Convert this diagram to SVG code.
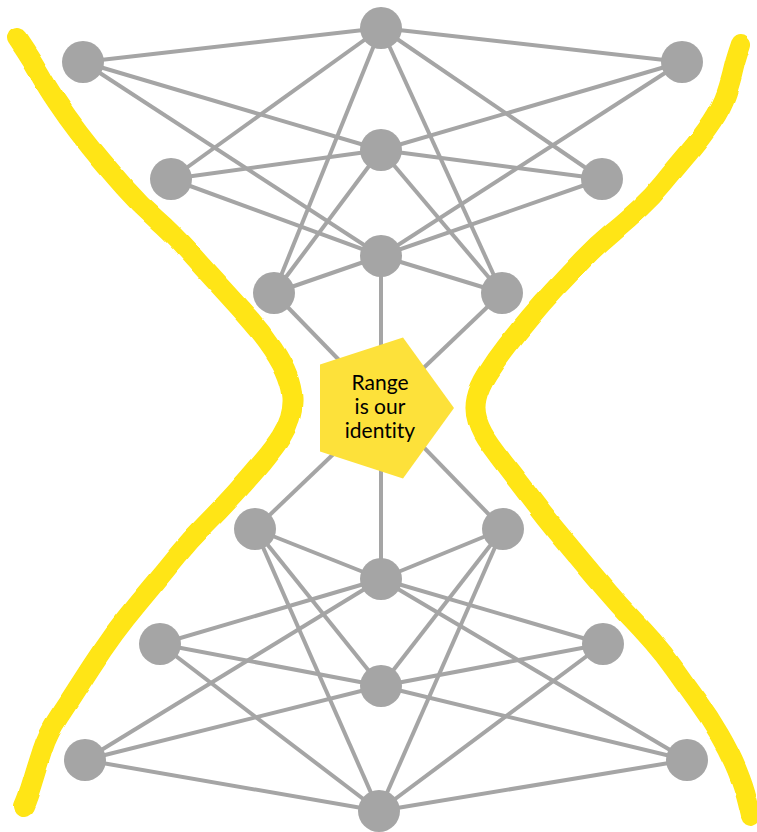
<svg xmlns="http://www.w3.org/2000/svg" width="757" height="832" viewBox="0 0 757 832">
<style>
.e{stroke:#A5A5A5;stroke-width:4;fill:none}
.n{fill:#A5A5A5}
.y{fill:none;stroke:#FFE512;stroke-width:20;stroke-linecap:round;stroke-linejoin:round}
.t{font-family:Lato,"Open Sans",sans-serif;font-size:21px;fill:#000;text-anchor:middle;font-variant-ligatures:none}
</style>
<defs>
<filter id="rough" x="-10%" y="-5%" width="120%" height="110%">
<feTurbulence type="fractalNoise" baseFrequency="0.035" numOctaves="1" seed="5" result="noise"/>
<feDisplacementMap in="SourceGraphic" in2="noise" scale="4" xChannelSelector="R" yChannelSelector="G"/>
</filter>
</defs>
<rect width="757" height="832" fill="#fff"/>
<g id="connectors">
<line class="e" x1="381" y1="28" x2="83" y2="62"/>
<line class="e" x1="381" y1="28" x2="682" y2="62"/>
<line class="e" x1="381" y1="28" x2="171" y2="179"/>
<line class="e" x1="381" y1="28" x2="602" y2="179"/>
<line class="e" x1="381" y1="28" x2="274" y2="293"/>
<line class="e" x1="381" y1="28" x2="502" y2="293"/>
<line class="e" x1="83" y1="62" x2="381" y2="150"/>
<line class="e" x1="83" y1="62" x2="381" y2="256"/>
<line class="e" x1="682" y1="62" x2="381" y2="150"/>
<line class="e" x1="682" y1="62" x2="381" y2="256"/>
<line class="e" x1="171" y1="179" x2="381" y2="150"/>
<line class="e" x1="171" y1="179" x2="381" y2="256"/>
<line class="e" x1="602" y1="179" x2="381" y2="150"/>
<line class="e" x1="602" y1="179" x2="381" y2="256"/>
<line class="e" x1="381" y1="150" x2="274" y2="293"/>
<line class="e" x1="381" y1="150" x2="502" y2="293"/>
<line class="e" x1="381" y1="256" x2="274" y2="293"/>
<line class="e" x1="381" y1="256" x2="502" y2="293"/>
<line class="e" x1="381" y1="256" x2="381" y2="579"/>
<line class="e" x1="274" y1="293" x2="503" y2="529"/>
<line class="e" x1="502" y1="293" x2="255" y2="529"/>
<line class="e" x1="255" y1="529" x2="381" y2="579"/>
<line class="e" x1="503" y1="529" x2="381" y2="579"/>
<line class="e" x1="255" y1="529" x2="381" y2="686"/>
<line class="e" x1="503" y1="529" x2="381" y2="686"/>
<line class="e" x1="255" y1="529" x2="379" y2="811"/>
<line class="e" x1="503" y1="529" x2="379" y2="811"/>
<line class="e" x1="381" y1="579" x2="160" y2="644"/>
<line class="e" x1="381" y1="579" x2="603" y2="644"/>
<line class="e" x1="381" y1="579" x2="85" y2="760"/>
<line class="e" x1="381" y1="579" x2="687" y2="760"/>
<line class="e" x1="160" y1="644" x2="381" y2="686"/>
<line class="e" x1="603" y1="644" x2="381" y2="686"/>
<line class="e" x1="160" y1="644" x2="379" y2="811"/>
<line class="e" x1="603" y1="644" x2="379" y2="811"/>
<line class="e" x1="381" y1="686" x2="85" y2="760"/>
<line class="e" x1="381" y1="686" x2="687" y2="760"/>
<line class="e" x1="85" y1="760" x2="379" y2="811"/>
<line class="e" x1="687" y1="760" x2="379" y2="811"/>
</g>
<g id="n-t0"><circle class="n" cx="381" cy="28" r="21"/></g>
<g id="n-l1"><circle class="n" cx="83" cy="62" r="21"/></g>
<g id="n-r1"><circle class="n" cx="682" cy="62" r="21"/></g>
<g id="n-c1"><circle class="n" cx="381" cy="150" r="21"/></g>
<g id="n-l2"><circle class="n" cx="171" cy="179" r="21"/></g>
<g id="n-r2"><circle class="n" cx="602" cy="179" r="21"/></g>
<g id="n-c2"><circle class="n" cx="381" cy="256" r="21"/></g>
<g id="n-l3"><circle class="n" cx="274" cy="293" r="21"/></g>
<g id="n-r3"><circle class="n" cx="502" cy="293" r="21"/></g>
<g id="n-l4"><circle class="n" cx="255" cy="529" r="21"/></g>
<g id="n-r4"><circle class="n" cx="503" cy="529" r="21"/></g>
<g id="n-c4"><circle class="n" cx="381" cy="579" r="21"/></g>
<g id="n-l5"><circle class="n" cx="160" cy="644" r="21"/></g>
<g id="n-r5"><circle class="n" cx="603" cy="644" r="21"/></g>
<g id="n-c5"><circle class="n" cx="381" cy="686" r="21"/></g>
<g id="n-l6"><circle class="n" cx="85" cy="760" r="21"/></g>
<g id="n-r6"><circle class="n" cx="687" cy="760" r="21"/></g>
<g id="n-b"><circle class="n" cx="379" cy="811" r="21"/></g>
<g id="identity">
<polygon points="454,408 403,337.6 320,364.5 320,451.5 403,478.4" fill="#FDE13A"/>
<text class="t" x="380" y="390">Range</text>
<text class="t" x="380" y="414">is our</text>
<text class="t" x="380" y="438">identity</text>
</g>
<g id="bounds" filter="url(#rough)">
<path class="y" d="M17,38 L25,50 Q33,62 40,74.5 Q47,87 57,102 Q67,117 78.5,132 Q90,147 101,160 Q112,173 126,189 Q140,205 156,219 Q172,233 189.5,252.5 Q207,272 223,289.5 Q239,307 251,320.5 Q263,334 273,349 Q283,364 287.5,376 Q292,388 292.5,398 Q293,408 290,418 Q287,428 281,437.5 Q275,447 262.5,462 Q250,477 235,493.5 Q220,510 205,525 Q190,540 177,556 Q164,572 151,587.5 Q138,603 126,618 Q114,633 102.5,650 Q91,667 80.5,683.5 Q70,700 59,716.5 Q48,733 42.5,750 Q37,767 32.5,782 Q28,797 24,806"/>
<path class="y" d="M741,44 L738,53 Q735,62 733,71 Q731,80 726.5,93.5 Q722,107 712,122 Q702,137 688,153.5 Q674,170 663,183.5 Q652,197 640,208 Q628,219 612.5,232 Q597,245 583.5,259 Q570,273 556,288 Q542,303 529.5,318 Q517,333 506.5,346.5 Q496,360 487.5,373.5 Q479,387 476.5,398.5 Q474,410 477.5,421 Q481,432 490,444.5 Q499,457 509.5,470.5 Q520,484 532.5,500.5 Q545,517 557.5,532 Q570,547 582.5,562 Q595,577 607,591 Q619,605 630,616.5 Q641,628 652.5,641 Q664,654 674.5,669 Q685,684 697,700.5 Q709,717 719.5,735 Q730,753 737,770 Q744,787 747.5,801.5 L751,816"/>
</g>
</svg>
